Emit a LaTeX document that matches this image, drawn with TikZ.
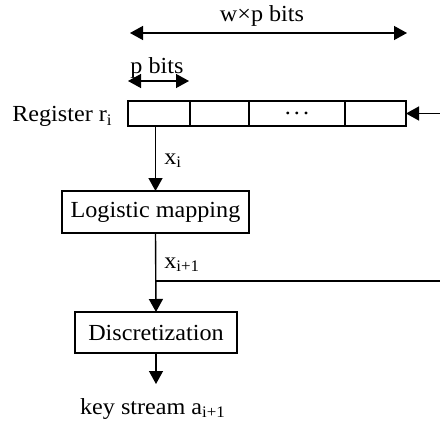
\documentclass[tikz,border=0pt]{standalone}
\usepackage{fontspec}
\setmainfont[FakeStretch=1.05]{Liberation Serif}
\usetikzlibrary{positioning, arrows.meta}

\begin{document}
\begin{tikzpicture}[
    x=0.5pt, y=-0.5pt,
    font=\fontsize{11.5}{13}\selectfont,
    box/.style={draw, line width=0.7pt, inner sep=0pt, outer sep=0pt, align=center},
    cell/.style={draw, line width=0.7pt, inner sep=0pt, outer sep=0pt, minimum height=12.5pt, anchor=west},
    arrow/.style={-{Triangle[length=6.5pt, width=7pt]}, line width=0.7pt},
    doublearrow/.style={{Triangle[length=6.5pt, width=7pt]}-{Triangle[length=6.5pt, width=7pt]}, line width=0.7pt},
    wire/.style={line width=0.7pt},
    lbl/.style={inner sep=0pt, anchor=base west},
    title/.style={inner sep=0pt, anchor=base}
]
    \useasboundingbox (0,0) rectangle (440,423);

    % ================= REGISTER =================
    \node[cell, minimum width=31pt] (Reg1) at (128,113.5) {};
    \node[cell, minimum width=29.5pt] (Reg2) at (Reg1.east) {};
    \node[cell, minimum width=48pt] (RegDots) at (Reg2.east) {.\kern1.5pt.\kern1.5pt.};
    \node[cell, minimum width=30.5pt] (Reg4) at (RegDots.east) {};
    \node[inner sep=0pt, anchor=base east] (RegLabel) at (113,121.5) {Register r\textsubscript{i}};

    % Widths of the register and of one cell
    \coordinate (WordL) at (130,33);
    \coordinate (WordR) at (407,33);
    \draw[doublearrow] (WordL) -- (WordR);
    \node[title] (WordLabel) at (262,21.7) {w×p bits};

    \coordinate (CellL) at (128,81);
    \coordinate (CellR) at (189,81);
    \node[title] (CellLabel) at (157,73) {p bits};
    \draw[doublearrow] (CellL) -- (CellR);

    % ================= PROCESSING =================
    \node[box, minimum width=93.5pt, minimum height=21pt] (Logistic) at (155.5,212) {Logistic mapping};
    \node[box, minimum width=81pt, minimum height=20.5pt] (Discrete) at (156,332.5) {Discretization};

    % ================= CONNECTIONS =================
    \draw[arrow] (Reg1.south -| Logistic.north) -- (Logistic.north);
    \node[lbl] (XiLabel) at (164,164) {x\textsubscript{i}};

    \draw[arrow] (Logistic.south) -- (Discrete.north);
    \node[lbl] (XnextLabel) at (164,268) {x\textsubscript{i+1}};

    % Feedback into the register (leaves the picture on the right)
    \coordinate (FeedRight) at (440,281);
    \coordinate (Branch) at (Logistic.south |- FeedRight);
    \draw[wire] (Branch) -- (FeedRight);
    \coordinate (FeedTop) at (440,113.5);
    \draw[arrow] (FeedTop) -- (Reg4.east);

    % Output
    \coordinate (KeyOut) at (156,384);
    \draw[arrow] (Discrete.south) -- (KeyOut);
    \node[title] (KeyLabel) at (153,414) {key stream a\textsubscript{i+1}};

\end{tikzpicture}
\end{document}
